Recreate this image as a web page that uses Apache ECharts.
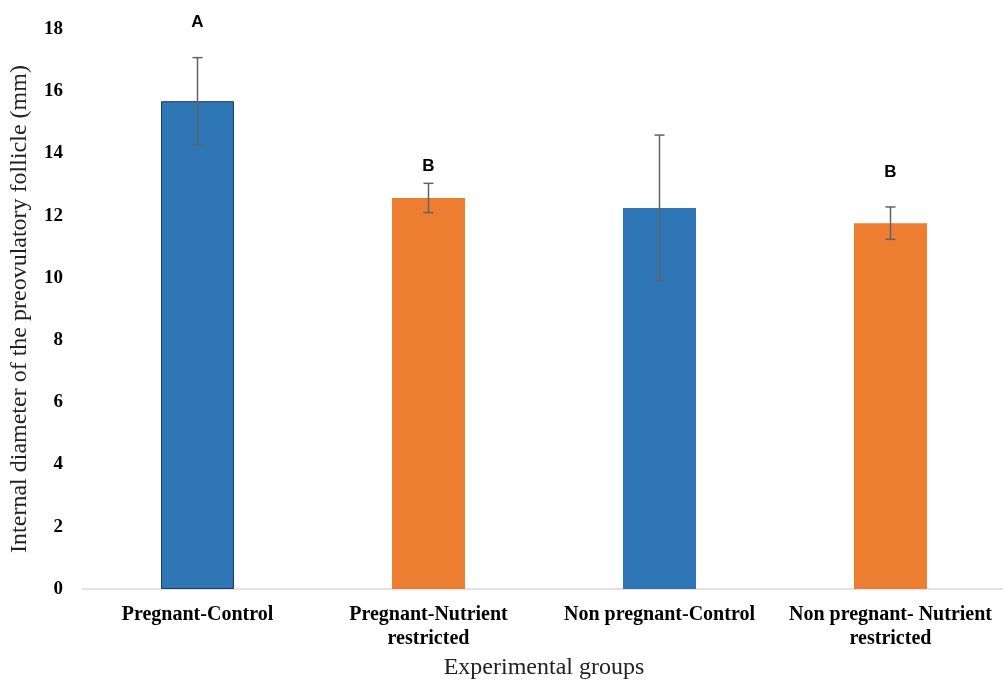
<!DOCTYPE html>
<html><head><meta charset="utf-8">
<script src="https://cdn.jsdelivr.net/npm/echarts@6/dist/echarts.min.js"></script>
<style>html,body{margin:0;padding:0;background:#fff}#c{width:1003px;height:682px}</style>
</head><body><div id="c"></div>
<script>
const categories = ['Pregnant-Control', 'Pregnant-Nutrient\nrestricted', 'Non pregnant-Control', 'Non pregnant- Nutrient\nrestricted'];
const means = [15.68, 12.57, 12.25, 11.76];
const errors = [1.4, 0.47, 2.34, 0.52];
const letters = ['A', 'B', '', 'B'];
const letterY = [18.2, 13.6, null, 13.4];
const yTicks = [0, 2, 4, 6, 8, 10, 12, 14, 16, 18];

const colors = ['#2E75B6', '#ED7D31', '#2E75B6', '#ED7D31'];
const serif = '"Liberation Serif", "DejaVu Serif", serif';

const chart = echarts.init(document.getElementById('c'));
chart.setOption({
  animation: false,
  grid: { left: 82, top: 29, bottom: 93, width: 924, containLabel: false, outerBoundsMode: 'none' },
  xAxis: {
    type: 'category', data: categories,
    axisLine: { lineStyle: { color: '#d9d9d9', width: 1.5 } },
    axisTick: { show: false },
    axisLabel: { fontFamily: serif, fontWeight: 'bold', fontSize: 20, color: '#000', margin: 14, lineHeight: 24, interval: 0 },
    name: 'Experimental groups', nameLocation: 'middle', nameGap: 64,
    nameTextStyle: { fontFamily: serif, fontSize: 24, color: '#222' }
  },
  yAxis: {
    type: 'value', min: 0, max: 18, interval: 2,
    axisLine: { show: false }, axisTick: { show: false }, splitLine: { show: false },
    axisLabel: { fontFamily: serif, fontWeight: 'bold', fontSize: 19, color: '#000', margin: 19,
      formatter: v => (yTicks.indexOf(v) >= 0 ? String(v) : '') },
    name: 'Internal diameter of the preovulatory follicle (mm)', nameLocation: 'middle', nameGap: 50,
    nameTextStyle: { fontFamily: serif, fontSize: 24, color: '#222' }
  },
  series: [
    {
      type: 'bar', barWidth: '31.6%',
      data: means.map((v, i) => ({ value: v, itemStyle: { color: colors[i], borderColor: i === 0 ? '#1F3864' : colors[i], borderWidth: i === 0 ? 1 : 0 } }))
    },
    {
      type: 'custom',
      data: means.map((v, i) => [i, v, errors[i], letterY[i]]),
      renderItem: function (params, api) {
        const i = api.value(0);
        const m = api.value(1), e = api.value(2);
        const top = api.coord([i, m + e]);
        const bot = api.coord([i, m - e]);
        const cap = 5;
        const st = { stroke: '#636363', lineWidth: 1.5 };
        const children = [
          { type: 'line', shape: { x1: top[0], y1: top[1], x2: bot[0], y2: bot[1] }, style: st },
          { type: 'line', shape: { x1: top[0] - cap, y1: top[1], x2: top[0] + cap, y2: top[1] }, style: st },
          { type: 'line', shape: { x1: bot[0] - cap, y1: bot[1], x2: bot[0] + cap, y2: bot[1] }, style: st }
        ];
        const ly = letterY[params.dataIndex];
        if (ly != null && letters[params.dataIndex]) {
          const p = api.coord([i, ly]);
          children.push({ type: 'text', x: p[0], y: p[1], style: { text: letters[params.dataIndex], font: 'bold 17px "Liberation Sans", Arial, sans-serif', fill: '#000', align: 'center', verticalAlign: 'middle' } });
        }
        return { type: 'group', children: children };
      },
      z: 5
    }
  ]
});
</script></body></html>
